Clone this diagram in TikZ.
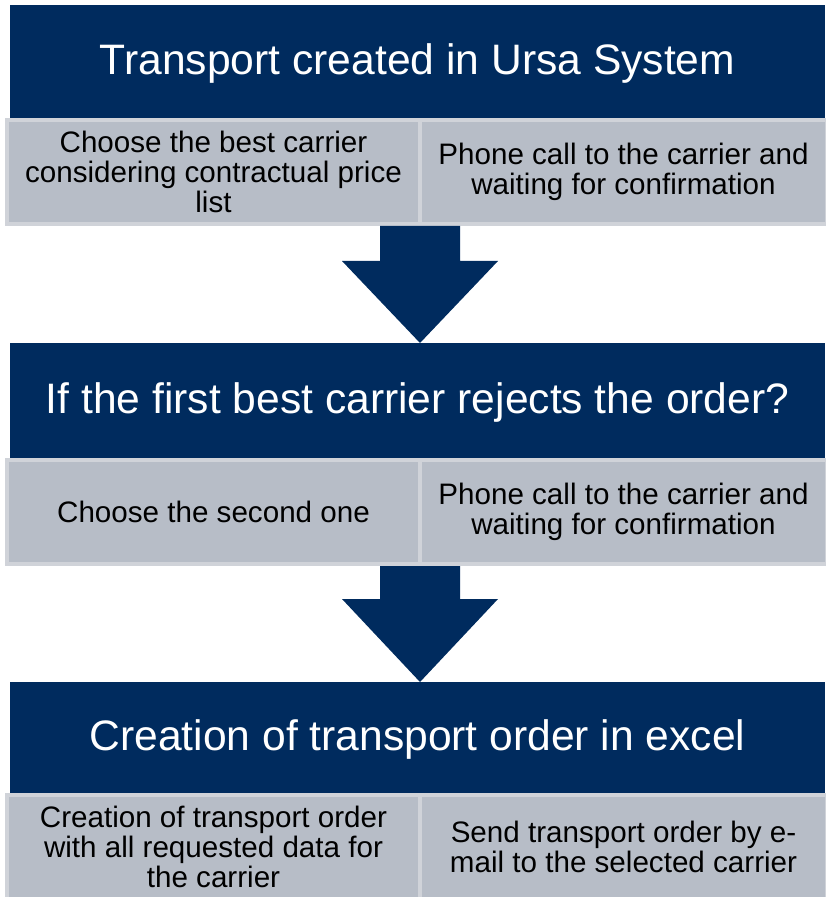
\documentclass[tikz,border=0pt]{standalone}
\usepackage{fontspec}
\setmainfont{Liberation Sans}
\usetikzlibrary{calc,positioning}
\definecolor{navy}{RGB}{0,43,94}
\definecolor{cellgray}{RGB}{183,189,199}
\definecolor{cellrim}{RGB}{208,211,217}
\begin{document}
\begin{tikzpicture}[
			x=0.5pt, y=-0.5pt,
			title/.style={fill=navy, text=white, font=\fontsize{21.3}{25}\selectfont, minimum width=407.5pt, text height=16pt, text depth=3pt, anchor=north west, inner sep=0pt, outer sep=0pt},
			cell/.style={fill=cellgray, draw=cellrim, line width=2pt, anchor=north west, align=center, font=\fontsize{14.8}{15}\selectfont, minimum height=52pt, inner sep=0pt, outer sep=0pt},
			bigarrow/.style={fill=navy}
			]
			\useasboundingbox (0,0) rectangle (825,897);
			
			\node (ttop) at (10,5) [title, minimum height=56.5pt] {Transport created in Ursa System};
			\node (tmid) at (10,343) [title, minimum height=57.5pt] {If the first best carrier rejects the order?};
			\node (tbot) at (10,682) [title, minimum height=55.5pt] {Creation of transport order in excel};
			
			\node (c1l) at (7,120) [cell, minimum width=206.5pt] {Choose the best carrier\\considering contractual price\\list};
			\node (c1r) at (420,120) [cell, minimum width=203.5pt] {Phone call to the carrier and\\waiting for confirmation};
			
			\node (c2l) at (7,460) [cell, minimum width=206.5pt] {Choose the second one};
			\node (c2r) at (420,460) [cell, minimum width=203.5pt] {Phone call to the carrier and\\waiting for confirmation};
			
			\node (c3l) at (7,795) [cell, minimum width=206.5pt] {Creation of transport order\\with all requested data for\\the carrier};
			\node (c3r) at (420,795) [cell, minimum width=203.5pt] {Send transport order by e-\\mail to the selected carrier};
			
			% block arrows between the stages
			\coordinate (a1) at (c1l.south east);
			\coordinate (a2) at (c2l.south east);
			\fill [bigarrow] ($(a1)+(-40,2)$) -- ($(a1)+(40,2)$) -- ($(a1)+(40,37)$) -- ($(a1)+(78,37)$) -- (a1 |- tmid.north) -- ($(a1)+(-78,37)$) -- ($(a1)+(-40,37)$) -- cycle;
			\fill [bigarrow] ($(a2)+(-40,2)$) -- ($(a2)+(40,2)$) -- ($(a2)+(40,35)$) -- ($(a2)+(78,35)$) -- (a2 |- tbot.north) -- ($(a2)+(-78,35)$) -- ($(a2)+(-40,35)$) -- cycle;
		\end{tikzpicture}
\end{document}
